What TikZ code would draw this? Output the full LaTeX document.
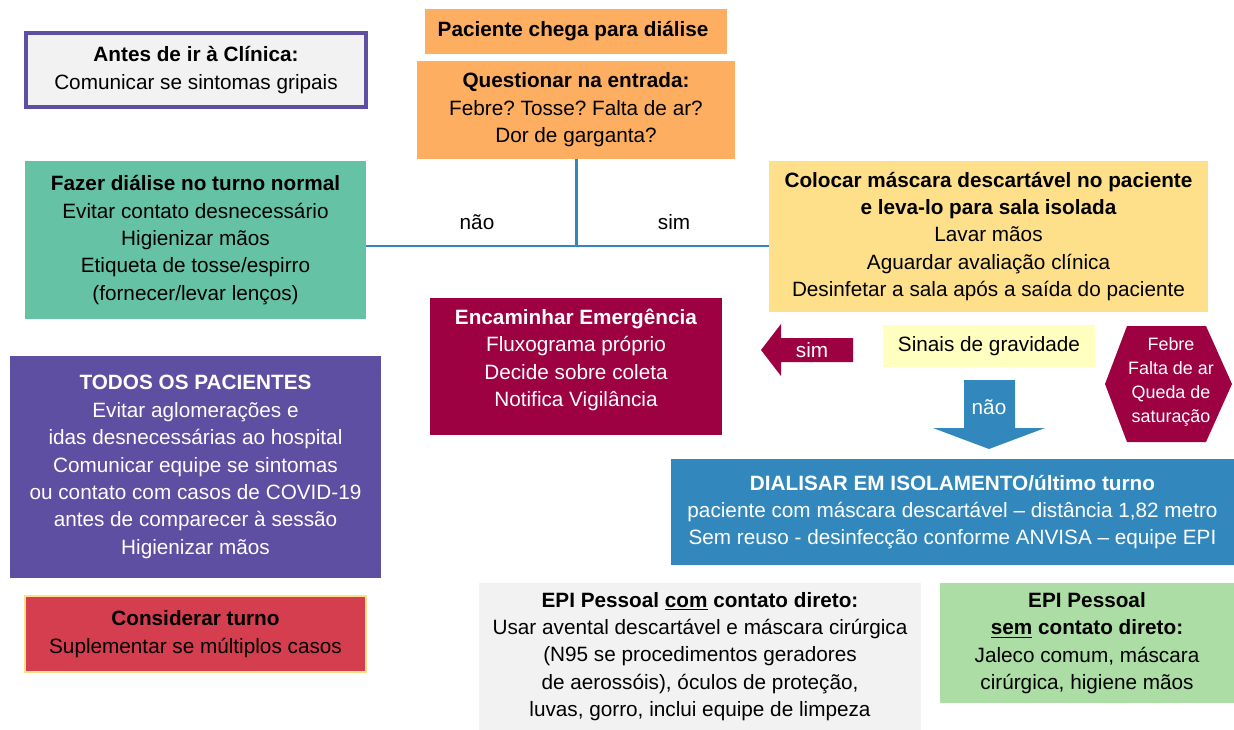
\documentclass[tikz,border=0pt]{standalone}
\usepackage{fontspec}
\setmainfont{Liberation Sans}
\usepackage{xcolor}
\usepackage{tikz}
\usetikzlibrary{positioning}
\frenchspacing

\definecolor{crimson}{HTML}{9E0142}
\definecolor{rose}{HTML}{D53E4F}
\definecolor{apricot}{HTML}{FDAE61}
\definecolor{sand}{HTML}{FEE08B}
\definecolor{cream}{HTML}{FFFFBF}
\definecolor{mint}{HTML}{ABDDA4}
\definecolor{teal}{HTML}{66C2A5}
\definecolor{ocean}{HTML}{3288BD}
\definecolor{violet}{HTML}{5E4FA2}
\definecolor{paper}{HTML}{F2F2F2}

\begin{document}
\begin{tikzpicture}[x=0.02cm, y=-0.02cm, font=\fontsize{11.8}{15.6}\selectfont,
    box/.style={rectangle, inner sep=0pt, align=center},
    link/.style={draw=ocean, line width=1.7pt}]
    \useasboundingbox (0,0) rectangle (1234,730);

    % left column
    \node[box, draw=violet, line width=1.8pt, fill=paper, minimum width=6.8cm, minimum height=1.48cm] (antes) at (196,70) {
        \textbf{Antes de ir à Clínica:}\\
        Comunicar se sintomas gripais
    };
    \node[box, fill=teal, minimum width=6.82cm, minimum height=3.16cm] (normal) at (195.5,240) {
        \textbf{Fazer diálise no turno normal}\\
        Evitar contato desnecessário\\
        Higienizar mãos\\
        Etiqueta de tosse/espirro\\
        (fornecer/levar lenços)
    };
    \node[box, fill=violet, text=white, minimum width=7.42cm, minimum height=4.44cm] (todos) at (195.5,467) {
        \textbf{TODOS OS PACIENTES}\\
        Evitar aglomerações e\\
        idas desnecessárias ao hospital\\
        Comunicar equipe se sintomas\\
        ou contato com casos de COVID-19\\
        antes de comparecer à sessão\\
        Higienizar mãos
    };
    \node[box, draw=sand, line width=1.3pt, fill=rose, minimum width=6.82cm, minimum height=1.52cm] (turno) at (195.5,634) {
        \textbf{Considerar turno}\\
        Suplementar se múltiplos casos
    };

    % entrada
    \node[box, fill=apricot, minimum width=6.04cm, minimum height=0.9cm] (chega) at (576,31.5) {
        \textbf{Paciente chega para diálise}
    };
    \node[box, fill=apricot, minimum width=6.36cm, minimum height=1.96cm, below=0.12cm of chega] (entrada) {
        \textbf{Questionar na entrada:}\\
        Febre? Tosse? Falta de ar?\\
        Dor de garganta?
    };

    \node[box, fill=sand, minimum width=8.78cm, minimum height=3.02cm] (mascara) at (988.5,236.5) {
        \textbf{Colocar máscara descartável no paciente}\\
        \textbf{e leva-lo para sala isolada}\\
        Lavar mãos\\
        Aguardar avaliação clínica\\
        Desinfetar a sala após a saída do paciente
    };

    \coordinate (split) at (576,246);
    \draw[link] (entrada.south) -- (split);
    \draw[link] (split -| normal.east) -- (split -| mascara.west);
    \node (nao) at (477,222) {não};
    \node (sim) at (674,222) {sim};

    % gravidade
    \node[box, fill=crimson, text=white, minimum width=5.84cm, minimum height=2.74cm] (emerg) at (576,366.5) {
        \textbf{Encaminhar Emergência}\\
        Fluxograma próprio\\
        Decide sobre coleta\\
        Notifica Vigilância\\[-0.2cm]
    };
    \node[box, fill=cream, minimum width=4.24cm, minimum height=0.84cm] (sinais) at (989,346) {Sinais de gravidade};

    \fill[crimson] (761,350) -- (781,324) -- (781,338) -- (853,338) -- (853,362) -- (781,362) -- (781,376) -- cycle;
    \node[text=white] (simseta) at (812,350) {sim};

    \fill[crimson] (1105,384) -- (1127,326) -- (1206,326) -- (1232,384) -- (1206,442) -- (1127,442) -- cycle;
    \node[align=center, text=white, font=\fontsize{10.2}{13.6}\selectfont] (sinaislista) at (1171,382) {
        Febre\\
        Falta de ar\\
        Queda de\\
        saturação
    };

    \fill[ocean] (964,380) -- (1015,380) -- (1015,428) -- (1045,428) -- (989,449) -- (933,428) -- (964,428) -- cycle;
    \node[text=white] (naoseta) at (989,407) {não};

    % isolamento
    \node[box, fill=ocean, text=white, minimum width=11.26cm, minimum height=2.12cm] (isola) at (952.5,512) {
        \textbf{DIALISAR EM ISOLAMENTO/último turno}\\
        paciente com máscara descartável -- distância 1,82 metro\\
        Sem reuso - desinfecção conforme ANVISA -- equipe EPI
    };

    % EPI
    \node[box, fill=paper, minimum width=8.84cm, minimum height=2.94cm] (epicom) at (700,656.5) {
        \textbf{EPI Pessoal \underline{com} contato direto:}\\
        Usar avental descartável e máscara cirúrgica\\
        (N95 se procedimentos geradores\\
        de aerossóis), óculos de proteção,\\
        luvas, gorro, inclui equipe de limpeza
    };
    \node[box, fill=mint, minimum width=5.88cm, minimum height=2.4cm] (episem) at (1087,643) {
        \textbf{EPI Pessoal}\\
        \textbf{\underline{sem} contato direto:}\\
        Jaleco comum, máscara\\
        cirúrgica, higiene mãos
    };
\end{tikzpicture}
\end{document}
